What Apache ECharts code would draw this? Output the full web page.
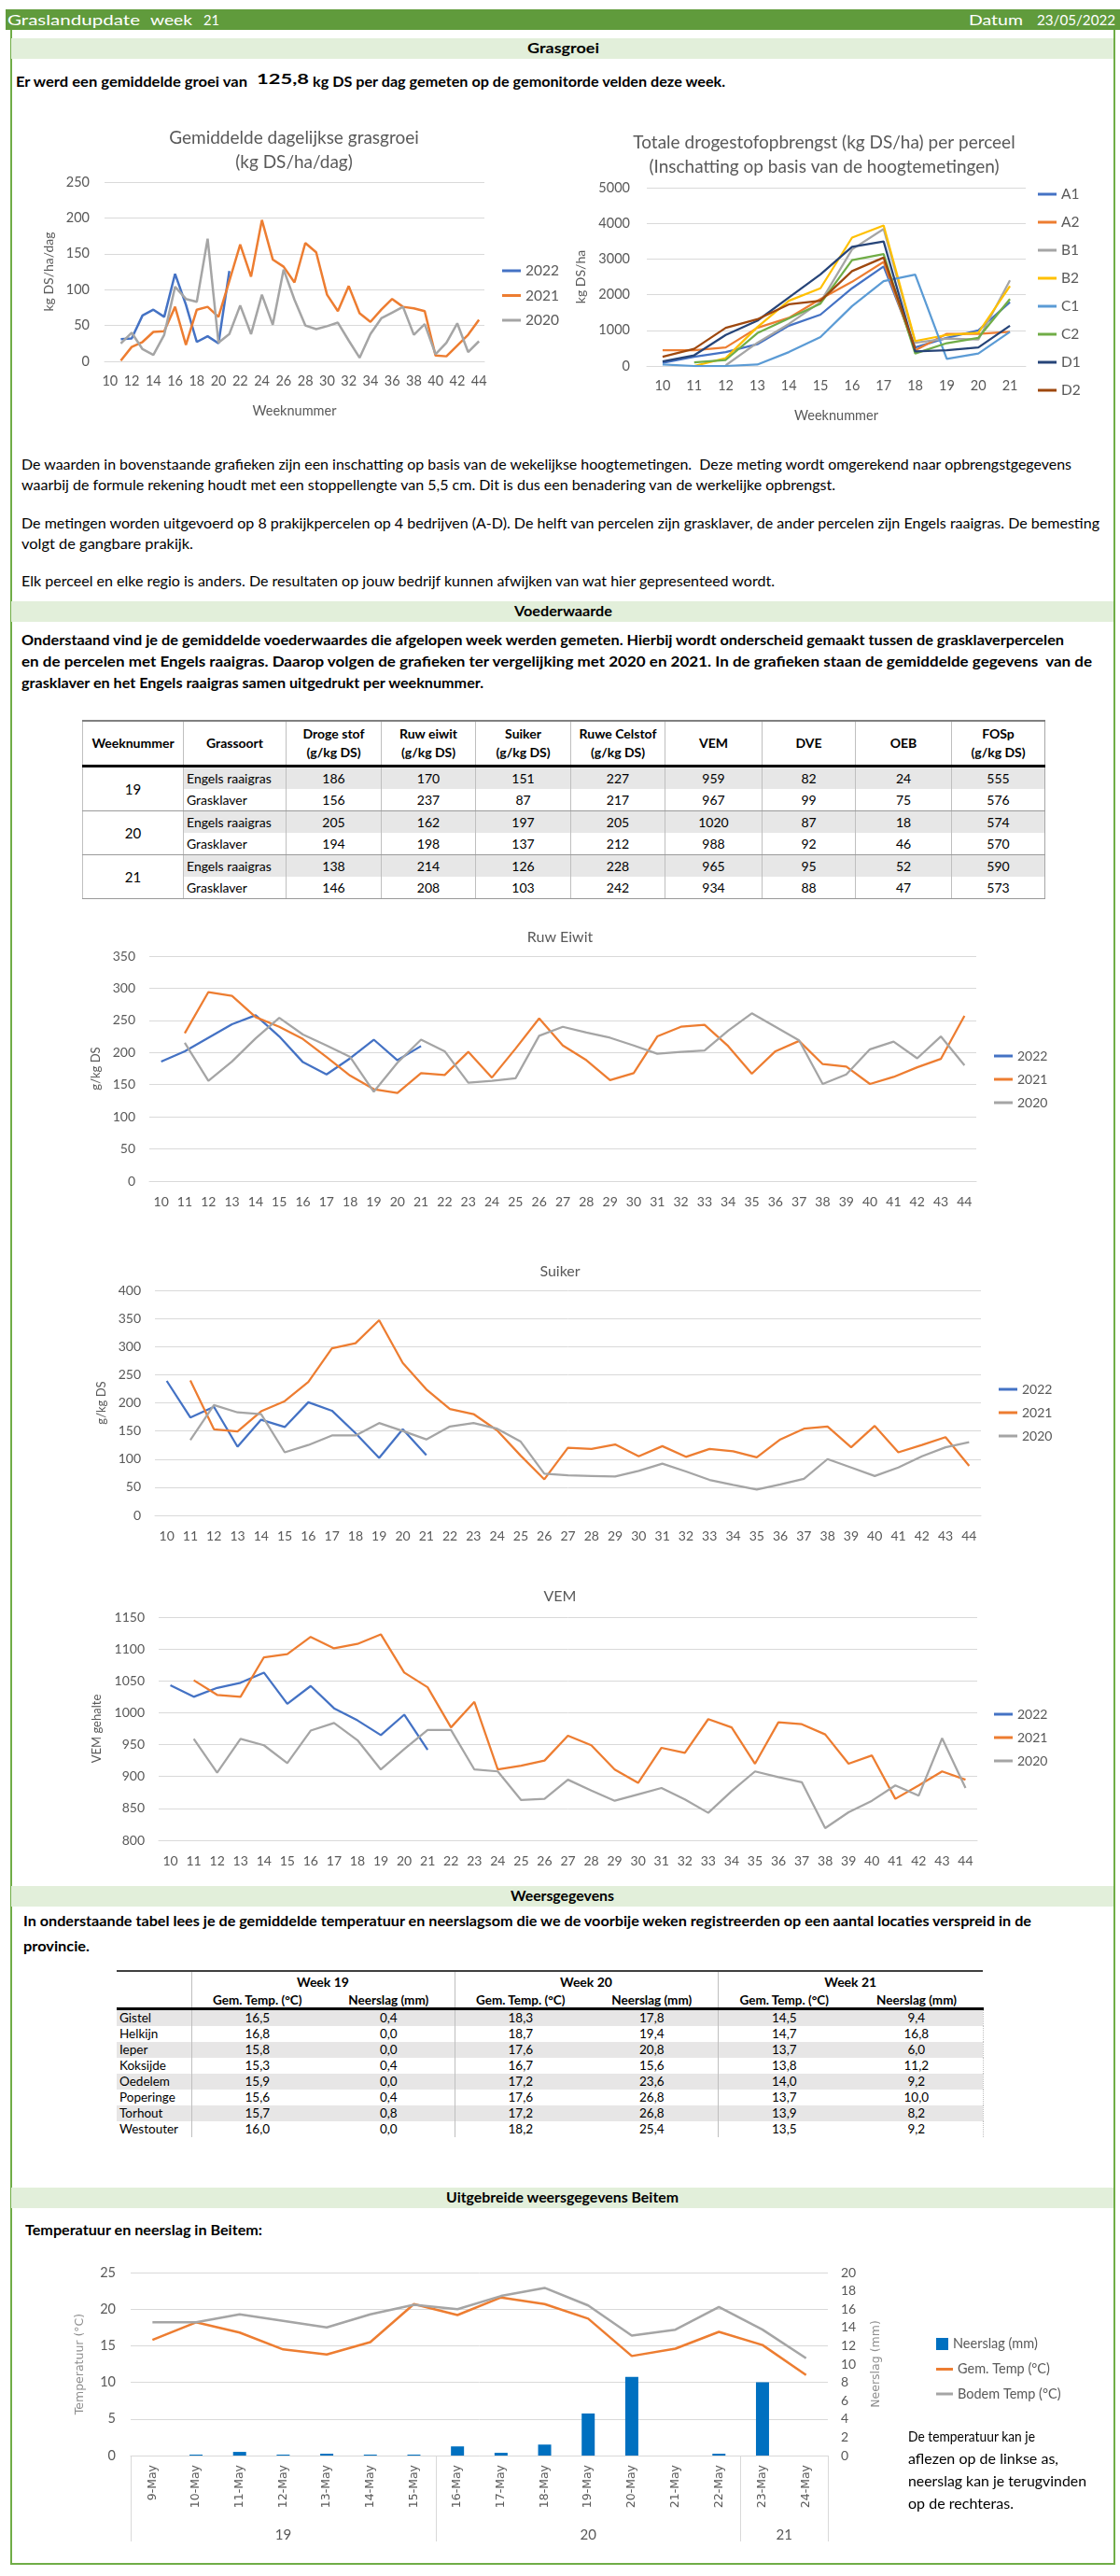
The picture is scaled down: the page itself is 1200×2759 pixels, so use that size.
<!DOCTYPE html>
<html><head><meta charset="utf-8">
<script src="https://cdn.jsdelivr.net/npm/echarts@6/dist/echarts.min.js"></script>
<style>
html,body{margin:0;padding:0;background:#fff;}
body{width:1200px;height:2759px;position:relative;overflow:hidden;font-family:Lato,'Open Sans',sans-serif;color:#000;}
.a{position:absolute;white-space:nowrap;transform-origin:left center;}
.band{position:absolute;left:12px;width:1181px;height:22px;background:#e2efda;}
.bt{font-weight:bold;font-size:14.5px;line-height:22px;}
.t{font-size:14.5px;line-height:18px;}
.b{font-size:14.5px;line-height:18px;font-weight:bold;}
.h{font-size:16px;line-height:22px;color:#fff;}
.chart{position:absolute;}
table{border-collapse:collapse;position:absolute;table-layout:fixed;}
#vt{font-size:14px;border:1px solid #a6a6a6;border-top:2px solid #808080;}
#vt th{font-weight:bold;height:46px;line-height:20px;border-left:1px solid #bfbfbf;border-bottom:3px solid #000;padding:0;}
#vt td{height:23px;padding:0;text-align:center;border-left:1px solid #bfbfbf;line-height:22px;}
#vt td.gs{text-align:left;padding-left:3px;}
#vt tr.er td.v{background:#e7e7e7;}
#vt tr.gb td{border-bottom:1px solid #9a9a9a;}
#wt{font-size:13.5px;border-top:2px solid #404040;}
#wt th{font-weight:bold;padding:0;}
#wt td{height:17px;padding:0;text-align:center;line-height:17px;}
#wt td.loc{text-align:left;padding-left:3px;}
#wt tr.g td{background:#e7e6e6;}
#wt .sep{border-left:1px solid #bfbfbf;}
</style></head><body>

<div class="a" style="left:6px;top:10px;width:1194px;height:22px;background:#609b3c;"></div>
<div class="a h" style="left:8px;top:10px;" data-w="142">Graslandupdate</div>
<div class="a h" style="left:161px;top:10px;" data-w="45">week</div>
<div class="a h" style="left:218px;top:10px;" data-w="17">21</div>
<div class="a h" style="left:1038px;top:10px;" data-w="58">Datum</div>
<div class="a h" style="left:1111px;top:10px;" data-w="84">23/05/2022</div>
<div class="a" style="left:11px;top:32px;width:1184px;height:2715px;border:2px solid #70ad47;border-top:none;box-sizing:border-box;"></div>

<div class="band" style="top:41px;"></div>
<div class="a bt" style="left:565px;top:41px;" data-w="77">Grasgroei</div>
<div class="a b" style="left:17px;top:79px;" data-w="248">Er werd een gemiddelde groei van</div>
<div class="a b" style="left:275px;top:76px;" data-w="56">125,8</div>
<div class="a b" style="left:335px;top:79px;" data-w="442">kg DS per dag gemeten op de gemonitorde velden deze week.</div>

<div id="c1" class="chart" style="left:0px;top:110px;width:630px;height:340px;"></div>
<div id="c2" class="chart" style="left:566px;top:110px;width:634px;height:360px;"></div>

<div class="a t" style="left:23px;top:489px;" data-w="1125">De waarden in bovenstaande grafieken zijn een inschatting op basis van de wekelijkse hoogtemetingen.&nbsp; Deze meting wordt omgerekend naar opbrengstgegevens</div>
<div class="a t" style="left:23px;top:511px;" data-w="872">waarbij de formule rekening houdt met een stoppellengte van 5,5 cm. Dit is dus een benadering van de werkelijke opbrengst.</div>
<div class="a t" style="left:23px;top:552px;" data-w="1155">De metingen worden uitgevoerd op 8 prakijkpercelen op 4 bedrijven (A-D). De helft van percelen zijn grasklaver, de ander percelen zijn Engels raaigras. De bemesting</div>
<div class="a t" style="left:23px;top:574px;" data-w="184">volgt de gangbare prakijk.</div>
<div class="a t" style="left:23px;top:614px;" data-w="807">Elk perceel en elke regio is anders. De resultaten op jouw bedrijf kunnen afwijken van wat hier gepresenteed wordt.</div>

<div class="band" style="top:644px;"></div>
<div class="a bt" style="left:551px;top:644px;" data-w="105">Voederwaarde</div>
<div class="a b" style="left:23px;top:677px;" data-w="1117">Onderstaand vind je de gemiddelde voederwaardes die afgelopen week werden gemeten. Hierbij wordt onderscheid gemaakt tussen de grasklaverpercelen</div>
<div class="a b" style="left:23px;top:700px;" data-w="1147">en de percelen met Engels raaigras. Daarop volgen de grafieken ter vergelijking met 2020 en 2021. In de grafieken staan de gemiddelde gegevens&nbsp; van de</div>
<div class="a b" style="left:23px;top:723px;" data-w="495">grasklaver en het Engels raaigras samen uitgedrukt per weeknummer.</div>

<table id="vt" style="left:88px;top:771px;width:1031px;">
<colgroup><col style="width:108px"><col style="width:110px"><col style="width:102px"><col style="width:101px"><col style="width:102px"><col style="width:101px"><col style="width:104px"><col style="width:100px"><col style="width:103px"><col style="width:100px"></colgroup>
<thead><tr id="vth"></tr></thead><tbody id="vtb"></tbody></table>

<div id="c3" class="chart" style="left:0px;top:970px;width:1200px;height:360px;"></div>
<div id="c4" class="chart" style="left:0px;top:1330px;width:1200px;height:350px;"></div>
<div id="c5" class="chart" style="left:0px;top:1680px;width:1200px;height:340px;"></div>

<div class="band" style="top:2020px;"></div>
<div class="a bt" style="left:547px;top:2020px;" data-w="111">Weersgegevens</div>
<div class="a b" style="left:25px;top:2049px;" data-w="1080">In onderstaande tabel lees je de gemiddelde temperatuur en neerslagsom die we de voorbije weken registreerden op een aantal locaties verspreid in de</div>
<div class="a b" style="left:25px;top:2076px;" data-w="71">provincie.</div>

<table id="wt" style="left:125px;top:2110px;width:928px;">
<colgroup><col style="width:80px"><col style="width:141px"><col style="width:141px"><col style="width:141px"><col style="width:141px"><col style="width:142px"><col style="width:142px"></colgroup>
<thead id="wth"></thead><tbody id="wtb"></tbody></table>

<div class="band" style="top:2343px;"></div>
<div class="a bt" style="left:478px;top:2343px;" data-w="249">Uitgebreide weersgegevens Beitem</div>
<div class="a b" style="left:27px;top:2380px;" data-w="254">Temperatuur en neerslag in Beitem:</div>

<div id="c6" class="chart" style="left:0px;top:2395px;width:1200px;height:345px;"></div>
<div class="a t" style="left:973px;top:2601px;" data-w="136">De temperatuur kan je</div>
<div class="a t" style="left:973px;top:2625px;" data-w="161">aflezen op de linkse as,</div>
<div class="a t" style="left:973px;top:2649px;" data-w="191">neerslag kan je terugvinden</div>
<div class="a t" style="left:973px;top:2673px;" data-w="113">op de rechteras.</div>

<script>
// ---------- DATA ----------
const growthWeeks = ['10','11','12','13','14','15','16','17','18','19','20','21','22','23','24','25','26','27','28','29','30','31','32','33','34','35','36','37','38','39','40','41','42','43','44'];
const growth2022 = [null,31,32,64,72,62,122,79,27,35,25,126];
const growth2021 = [null,1,20,27,41,42,76,23,72,76,62,112,163,118,197,142,132,110,165,152,93,70,105,67,55,72,87,76,74,70,8,7,22,37,58];
const growth2020 = [null,25,40,17,9,37,104,87,83,171,26,38,78,38,93,51,128,86,50,45,49,54,29,5,38,60,68,76,37,52,10,26,53,13,28];

const plotWeeks = ['10','11','12','13','14','15','16','17','18','19','20','21'];
const plotNames = ['A1','A2','B1','B2','C1','C2','D1','D2'];
const plotA1 = [90,260,390,610,1130,1440,2180,2790,520,790,1000,1790];
const plotA2 = [440,440,520,1070,1350,1880,2360,2920,440,900,900,960];
const plotB1 = [null,null,20,650,1180,1790,3270,3840,650,770,740,2400];
const plotB2 = [null,0,220,1090,1830,2180,3600,3940,700,870,930,2240];
const plotC1 = [40,0,0,40,390,810,1680,2380,2560,200,350,960];
const plotC2 = [null,100,170,920,1335,1750,2970,3140,350,640,790,1880];
const plotD1 = [130,300,870,1270,1920,2570,3340,3490,410,440,520,1130];
const plotD2 = [260,480,1070,1310,1730,1830,2660,3040,480,null,null,null];

const eiwit2022 = [186,202,223,244,258,225,185,166,191,220,188,210];
const eiwit2021 = [null,230,294,288,255,240,221,193,164,143,137,168,165,201,161,206,253,211,188,157,168,225,240,243,210,167,202,218,182,178,151,162,177,190,257];
const eiwit2020 = [null,215,156,186,222,254,228,211,193,139,184,220,202,153,156,160,226,240,231,223,211,198,201,203,234,261,240,219,151,166,205,217,191,225,180];

const suiker2022 = [239,174,193,122,170,157,201,186,146,102,153,107];
const suiker2021 = [null,240,153,149,185,203,237,297,306,347,271,224,189,180,151,106,64,120,118,126,105,123,104,118,114,103,135,154,158,121,159,112,125,139,88];
const suiker2020 = [null,134,196,183,180,112,125,142,142,164,150,135,158,164,154,131,74,71,70,69,79,92,78,63,54,46,55,65,100,85,70,85,105,121,130];

const vem2022 = [1043,1025,1039,1047,1063,1014,1042,1007,988,965,997,942];
const vem2021 = [null,1051,1028,1025,1087,1092,1119,1101,1108,1123,1063,1040,977,1017,911,917,925,964,949,911,890,945,937,990,977,920,985,982,966,920,933,865,886,908,895];
const vem2020 = [null,959,906,959,949,921,972,984,957,911,943,973,973,911,908,863,865,895,878,862,872,882,864,843,877,908,899,891,819,844,862,886,870,960,882];

const vwHeaders = [['Weeknummer'],['Grassoort'],['Droge stof','(g/kg DS)'],['Ruw eiwit','(g/kg DS)'],['Suiker','(g/kg DS)'],['Ruwe Celstof','(g/kg DS)'],['VEM'],['DVE'],['OEB'],['FOSp','(g/kg DS)']];
const vwWeeks = ['19','20','21'];
const vwRows = [
  ['Engels raaigras',186,170,151,227,959,82,24,555],
  ['Grasklaver',156,237,87,217,967,99,75,576],
  ['Engels raaigras',205,162,197,205,1020,87,18,574],
  ['Grasklaver',194,198,137,212,988,92,46,570],
  ['Engels raaigras',138,214,126,228,965,95,52,590],
  ['Grasklaver',146,208,103,242,934,88,47,573]
];

const weatherWeeks = ['Week 19','Week 20','Week 21'];
const weatherSub = ['Gem. Temp. (°C)','Neerslag (mm)'];
const weatherLoc = ['Gistel','Helkijn','Ieper','Koksijde','Oedelem','Poperinge','Torhout','Westouter'];
const weatherVals = [
  ['16,5','0,4','18,3','17,8','14,5','9,4'],
  ['16,8','0,0','18,7','19,4','14,7','16,8'],
  ['15,8','0,0','17,6','20,8','13,7','6,0'],
  ['15,3','0,4','16,7','15,6','13,8','11,2'],
  ['15,9','0,0','17,2','23,6','14,0','9,2'],
  ['15,6','0,4','17,6','26,8','13,7','10,0'],
  ['15,7','0,8','17,2','26,8','13,9','8,2'],
  ['16,0','0,0','18,2','25,4','13,5','9,2']
];

const beitemDays = ['9-May','10-May','11-May','12-May','13-May','14-May','15-May','16-May','17-May','18-May','19-May','20-May','21-May','22-May','23-May','24-May'];
const beitemGroups = ['19','20','21'];
const beitemRain = [0,0.1,0.4,0.1,0.2,0.1,0.1,1.0,0.3,1.2,4.6,8.6,0,0.2,8.0,0];
const beitemTemp = [15.8,18.2,16.8,14.5,13.8,15.5,20.7,19.2,21.6,20.7,18.7,13.6,14.6,16.9,15.1,11.0];
const beitemSoil = [18.2,18.2,19.3,18.4,17.5,19.3,20.6,20.0,21.8,22.9,20.5,16.4,17.2,20.3,17.2,13.3];

// ---------- TABLES ----------
(function(){
  const th = document.getElementById('vth');
  vwHeaders.forEach(h => { const c = document.createElement('th'); c.innerHTML = h.join('<br>'); th.appendChild(c); });
  const tb = document.getElementById('vtb');
  vwRows.forEach((r,i) => {
    const tr = document.createElement('tr');
    tr.className = (i%2===0 ? 'er' : 'gr') + (i%2===1 ? ' gb' : '');
    let html = '';
    if (i%2===0) html += '<td rowspan="2" style="font-size:15px;border-bottom:1px solid #9a9a9a;">'+vwWeeks[i/2]+'</td>';
    html += '<td class="gs v">'+r[0]+'</td>';
    for (let k=1;k<r.length;k++) html += '<td class="v">'+r[k]+'</td>';
    tr.innerHTML = html; tb.appendChild(tr);
  });
  const wh = document.getElementById('wth');
  let h1 = '<tr><th style="height:21px;"></th>';
  weatherWeeks.forEach(w => h1 += '<th colspan="2" class="sep" style="height:21px;font-size:14px;">'+w+'</th>');
  h1 += '</tr><tr><th style="height:17px;border-bottom:3px solid #000;"></th>';
  weatherWeeks.forEach((w,i) => weatherSub.forEach((s,j) => h1 += '<th class="'+(j===0?'sep':'')+'" style="height:17px;border-bottom:3px solid #000;">'+s+'</th>'));
  h1 += '</tr>';
  wh.innerHTML = h1;
  const wb = document.getElementById('wtb');
  weatherLoc.forEach((l,i) => {
    const tr = document.createElement('tr');
    if (i%2===0) tr.className = 'g';
    let html = '<td class="loc">'+l+'</td>';
    weatherVals[i].forEach((v,k) => html += '<td class="'+(k%2===0?'sep':'')+'"'+(k===5?' style="border-right:1px dotted #bfbfbf"':'')+'>'+v+'</td>');
    tr.innerHTML = html; wb.appendChild(tr);
  });
})();

// ---------- CHARTS ----------
const GRID_C = '#d9d9d9', TXT = '#595959', FONT = 'Lato';
const C2022 = '#4472c4', C2021 = '#ed7d31', C2020 = '#a5a5a5';
const plain = v => String(v);

function lineSeries(name, data, color, width){
  return {type:'line', name, data, symbol:'none', connectNulls:false, lineStyle:{width, color}, itemStyle:{color}, emphasis:{disabled:true}};
}

function lineOption(cfg){
  return {
    animation:false,
    textStyle:{fontFamily:FONT},
    title:{text:cfg.title, left:'center', top:cfg.titleTop, textStyle:{fontFamily:FONT, fontSize:cfg.titleSize, fontWeight:'normal', color:TXT, lineHeight:cfg.titleLH||cfg.titleSize+6}},
    legend:{orient:'vertical', left:cfg.legLeft, top:cfg.legTop, itemGap:cfg.legGap, itemWidth:20, itemHeight:3, icon:'rect', height:400,
      textStyle:{fontFamily:FONT, fontSize:cfg.legSize, color:TXT}, data:cfg.series.map(s=>s.name)},
    grid:Object.assign({containLabel:false, outerBoundsMode:'none'}, cfg.grid),
    xAxis:{type:'category', data:cfg.cats, boundaryGap:true,
      axisLine:{lineStyle:{color:GRID_C}}, axisTick:{show:false},
      axisLabel:{interval:cfg.xInterval||0, fontSize:cfg.xSize, color:TXT, margin:cfg.xMargin, fontFamily:FONT},
      name:cfg.xName||'', nameLocation:'middle', nameGap:cfg.xNameGap||30, nameTextStyle:{fontSize:cfg.xNameSize||14, color:TXT, fontFamily:FONT}},
    yAxis:{type:'value', min:cfg.ymin, max:cfg.ymax, interval:cfg.yint,
      axisLine:{show:false}, axisTick:{show:false},
      axisLabel:{fontSize:cfg.ySize, color:TXT, margin:cfg.yMargin, fontFamily:FONT, formatter:plain},
      splitLine:{lineStyle:{color:GRID_C}},
      name:cfg.yName, nameLocation:'middle', nameGap:cfg.yNameGap, nameRotate:90, nameTextStyle:{fontSize:cfg.yNameSize||13, color:TXT, fontFamily:FONT}},
    series:cfg.series
  };
}

const c1 = echarts.init(document.getElementById('c1'));
c1.setOption(lineOption({
  title:'Gemiddelde dagelijkse grasgroei\n(kg DS/ha/dag)', titleTop:20, titleSize:19, titleLH:26,
  legLeft:533, legTop:167, legGap:10.5, legSize:15.5,
  grid:{left:112, right:111, top:85, bottom:63},
  cats:growthWeeks, xInterval:1, xSize:14.5, xMargin:14, xName:'Weeknummer', xNameGap:46, xNameSize:14.5,
  ymin:0, ymax:250, yint:50, ySize:14.5, yMargin:16, yName:'kg DS/ha/dag', yNameGap:52, yNameSize:14,
  series:[lineSeries('2022',growth2022,C2022,2.5), lineSeries('2021',growth2021,C2021,2.5), lineSeries('2020',growth2020,C2020,2.5)]
}));

const plotColors = ['#4472c4','#ed7d31','#a5a5a5','#ffc000','#5b9bd5','#70ad47','#264478','#9e480e'];
const plotData = [plotA1,plotA2,plotB1,plotB2,plotC1,plotC2,plotD1,plotD2];
const c2 = echarts.init(document.getElementById('c2'));
c2.setOption(lineOption({
  title:'Totale drogestofopbrengst (kg DS/ha) per perceel\n(Inschatting op basis van de hoogtemetingen)', titleTop:25, titleSize:19, titleLH:26,
  legLeft:541, legTop:85, legGap:14, legSize:15.5,
  grid:{left:127, right:101, top:91, bottom:78},
  cats:plotWeeks, xSize:14.5, xMargin:14, xName:'Weeknummer', xNameGap:46, xNameSize:14.5,
  ymin:0, ymax:5000, yint:1000, ySize:14.5, yMargin:18, yName:'kg DS/ha', yNameGap:64, yNameSize:14,
  series:plotNames.map((n,i)=>lineSeries(n, plotData[i], plotColors[i], 2.25))
}));

function yearChart(id, title, d22, d21, d20, cfg){
  const ch = echarts.init(document.getElementById(id));
  ch.setOption(lineOption(Object.assign({
    title, titleSize:16, legGap:11, legSize:14,
    cats:growthWeeks, xSize:14, xMargin:15,
    ySize:14, yMargin:15, yNameSize:13,
    series:[lineSeries('2022',d22,C2022,2.25), lineSeries('2021',d21,C2021,2.25), lineSeries('2020',d20,C2020,2.25)]
  }, cfg)));
}
yearChart('c3','Ruw Eiwit', eiwit2022, eiwit2021, eiwit2020, {titleTop:18, legLeft:1060, legTop:149, grid:{left:160,right:154,top:54,bottom:65}, ymin:0, ymax:350, yint:50, yName:'g/kg DS', yNameGap:48});
yearChart('c4','Suiker', suiker2022, suiker2021, suiker2020, {titleTop:16, legLeft:1065, legTop:146, grid:{left:166,right:149,top:52,bottom:57}, ymin:0, ymax:400, yint:50, yName:'g/kg DS', yNameGap:51});
yearChart('c5','VEM', vem2022, vem2021, vem2020, {titleTop:14, legLeft:1060, legTop:144, grid:{left:170,right:153,top:52,bottom:49}, ymin:800, ymax:1150, yint:50, yName:'VEM gehalte', yNameGap:60});

// Beitem combo chart
const groupLabelAt = {3.5:beitemGroups[0], 10.5:beitemGroups[1], 15:beitemGroups[2]};
const legText = {fontFamily:FONT, fontSize:14.5, color:TXT};
const c6 = echarts.init(document.getElementById('c6'));
c6.setOption({
  animation:false,
  textStyle:{fontFamily:FONT},
  legend:[
    {orient:'vertical', left:998, top:103, itemWidth:13, itemHeight:13, icon:'rect', textStyle:legText, data:['Neerslag (mm)']},
    {orient:'vertical', left:998, top:130, itemGap:11.5, itemWidth:18, itemHeight:3, icon:'rect', textStyle:legText, data:['Gem. Temp (°C)','Bodem Temp (°C)']}
  ],
  grid:{left:140, right:313, top:39, bottom:110, containLabel:false, outerBoundsMode:'none'},
  xAxis:[
    {type:'category', data:beitemDays, boundaryGap:true, axisLine:{lineStyle:{color:GRID_C}}, axisTick:{show:false},
     axisLabel:{interval:0, rotate:90, fontSize:12.5, fontFamily:'DejaVu Sans', color:TXT, margin:10}},
    {type:'value', min:0, max:16, position:'bottom', offset:0, axisLine:{show:false}, splitLine:{show:false},
     axisTick:{show:true, inside:false, length:92, lineStyle:{color:GRID_C}, customValues:[0,7,14,16]},
     axisLabel:{show:true, margin:78, fontSize:15, color:TXT, fontFamily:FONT, customValues:[3.5,10.5,15], formatter:v=>groupLabelAt[v]||''}}
  ],
  yAxis:[
    {type:'value', min:0, max:25, interval:5, axisLine:{show:false}, axisTick:{show:false},
     axisLabel:{fontSize:14.5, color:TXT, margin:16, fontFamily:FONT, formatter:plain}, splitLine:{lineStyle:{color:GRID_C}},
     name:'Temperatuur (°C)', nameLocation:'middle', nameGap:48, nameRotate:90, nameTextStyle:{fontSize:12.5, color:'#8c8c8c', fontFamily:'DejaVu Sans'}},
    {type:'value', min:0, max:20, interval:2, axisLine:{show:false}, axisTick:{show:false}, splitLine:{show:false},
     axisLabel:{fontSize:14, color:TXT, margin:14, fontFamily:FONT, formatter:plain},
     name:'Neerslag (mm)', nameLocation:'middle', nameGap:45, nameRotate:90, nameTextStyle:{fontSize:12.5, color:'#8c8c8c', fontFamily:'DejaVu Sans'}}
  ],
  series:[
    {type:'bar', name:'Neerslag (mm)', data:beitemRain, yAxisIndex:1, xAxisIndex:0, barWidth:14, itemStyle:{color:'#0070c0'}},
    {type:'line', name:'Gem. Temp (°C)', data:beitemTemp, yAxisIndex:0, xAxisIndex:0, symbol:'none', lineStyle:{width:2.5, color:'#ed7d31'}, itemStyle:{color:'#ed7d31'}},
    {type:'line', name:'Bodem Temp (°C)', data:beitemSoil, yAxisIndex:0, xAxisIndex:0, symbol:'none', lineStyle:{width:2.5, color:'#a5a5a5'}, itemStyle:{color:'#a5a5a5'}}
  ]
});

// ---------- fit text lines to the widths measured on the reference ----------
function fitText(){
  document.querySelectorAll('[data-w]').forEach(el => {
    el.style.transform = 'none';
    const w = el.getBoundingClientRect().width;
    const t = +el.dataset.w;
    if (w > 0) el.style.transform = 'scaleX(' + (t / w).toFixed(4) + ')';
  });
}
fitText();
if (document.fonts && document.fonts.ready) document.fonts.ready.then(fitText);
</script>
</body></html>
